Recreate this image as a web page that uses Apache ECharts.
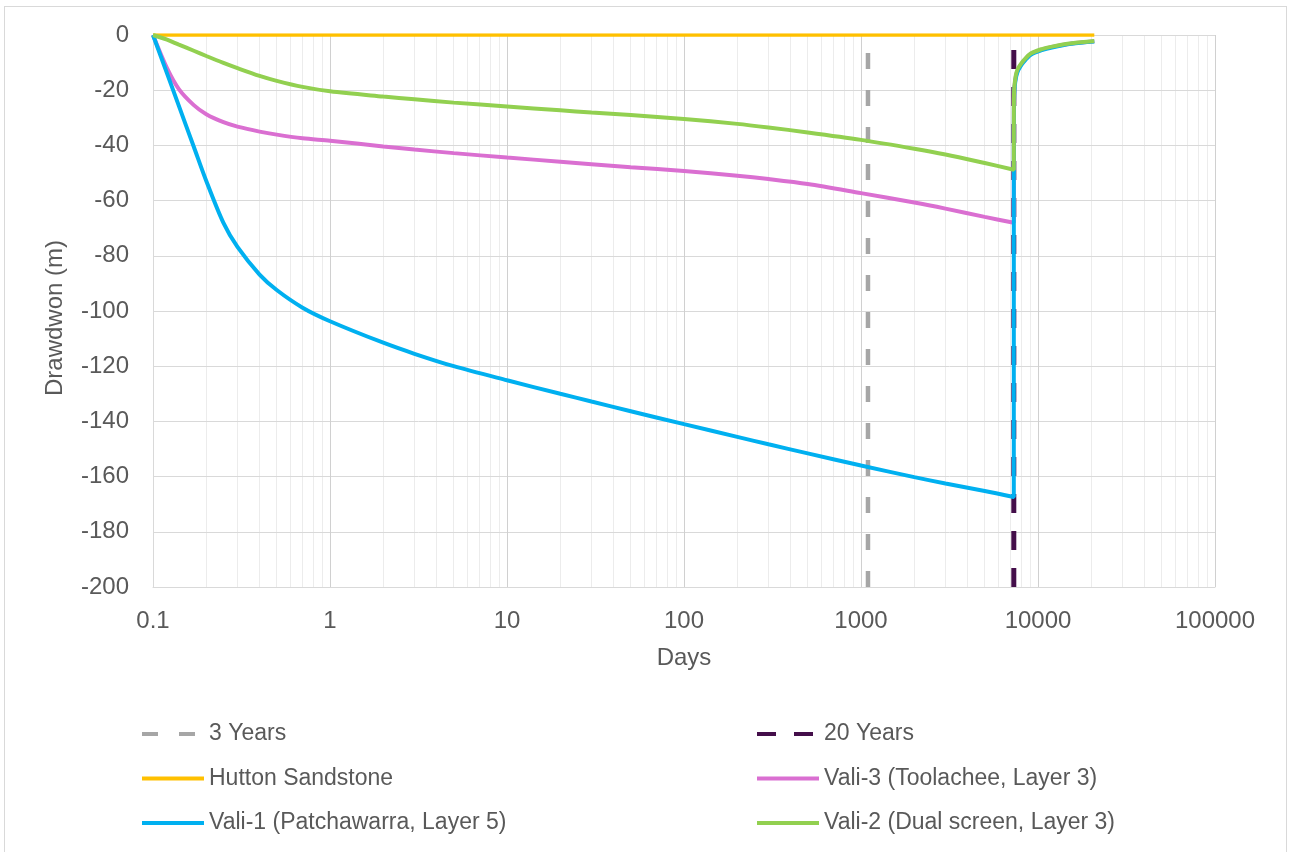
<!DOCTYPE html>
<html>
<head>
<meta charset="utf-8">
<script src="https://cdn.jsdelivr.net/npm/echarts@6/dist/echarts.min.js"></script>
<style>
  html, body { margin: 0; padding: 0; background: #ffffff; overflow: hidden; }
  #wrap { position: relative; width: 1290px; height: 852px; overflow: hidden; }
  #frame { position: absolute; left: 4px; top: 6px; width: 1283px; height: 870px; border: 1px solid #d9d9d9; box-sizing: border-box; }
  #chart { position: absolute; left: 0; top: 0; width: 1290px; height: 852px; }
</style>
</head>
<body>
<div id="wrap">
  <div id="frame"></div>
  <div id="chart"></div>
</div>
<script>
// Time axis (days) during pumping, then during recovery after 20 years
const pumpDays = [0.1, 0.12, 0.14, 0.17, 0.2, 0.25, 0.3, 0.4, 0.5, 0.7, 1, 2, 3, 5, 10, 20, 30, 50, 100, 200, 300, 500, 1000, 2000, 3000, 5000, 7300];
const recoveryDays = [7302, 7310, 7340, 7400, 7500, 7650, 7850, 8300, 9100, 10500, 12000, 15500, 20800];

// Drawdown (m) per bore
const vali1Pump = [0, -13.9, -25.7, -40.5, -52.9, -68.1, -76.8, -86.8, -92.4, -98.8, -103.7, -111.5, -115.5, -120.0, -125.1, -130.0, -132.8, -136.3, -141.0, -145.6, -148.3, -151.6, -156.0, -160.2, -162.5, -165.2, -167.4];
const vali1Recovery = [-45, -27, -21.5, -18.3, -15.6, -13.5, -12.0, -9.8, -7.2, -5.5, -4.5, -3.2, -2.4];

const vali3Pump = [0, -12, -19.6, -25.4, -28.7, -31.6, -33.2, -35.0, -36.1, -37.4, -38.3, -40.4, -41.5, -42.8, -44.4, -45.9, -46.8, -47.9, -49.3, -51.0, -52.2, -54.0, -57.3, -60.7, -62.9, -65.9, -68.0];
const vali3Recovery = [-32, -24, -20.2, -17.6, -15.0, -13.0, -11.6, -9.5, -6.9, -5.3, -4.3, -3.1, -2.3];

const vali2Pump = [0, -1.7, -3.5, -5.7, -7.6, -10.1, -12.0, -14.8, -16.6, -18.8, -20.4, -22.3, -23.3, -24.5, -25.9, -27.3, -28.1, -29.0, -30.4, -32.2, -33.5, -35.3, -38.0, -41.2, -43.3, -46.4, -48.8];
const vali2Recovery = [-30, -23, -19.5, -17, -14.5, -12.6, -11.3, -9.2, -6.7, -5.1, -4.2, -3.0, -2.2];

const huttonDays = [0.1, 20800];
const huttonValues = [0, 0];

// Reference times (days) and the drawdown span they cover
const threeYears = 1095;
const twentyYears = 7300;
const markerSpan = [-200, 0];

// Log-axis gridline positions
const decades = [0.1, 1, 10, 100, 1000, 10000];
const minorSteps = [2, 3, 4, 5, 6, 7, 8, 9];

function pairs(xs, ys) { return xs.map((x, i) => [x, ys[i]]); }
const minorLines = [];
decades.forEach(d => minorSteps.forEach(k => minorLines.push({ xAxis: d * k })));

const FONT = "'Liberation Sans', Arial, sans-serif";
const TXT = '#595959';

const chart = echarts.init(document.getElementById('chart'), null, { renderer: 'canvas' });

const legendBase = {
  orient: 'vertical', top: 722, padding: 0, itemWidth: 62, itemHeight: 14, itemGap: 20.5,
  itemStyle: { opacity: 0 },
  lineStyle: { width: 4 },
  textStyle: { fontSize: 23, color: TXT, fontFamily: FONT, lineHeight: 24 }
};

const option = {
  backgroundColor: 'transparent',
  animation: false,
  textStyle: { fontFamily: FONT, color: TXT },
  grid: { left: 153, top: 35, width: 1062, height: 552, containLabel: false },
  xAxis: {
    type: 'log', logBase: 10, min: 0.1, max: 100000, splitNumber: 6,
    name: 'Days', nameLocation: 'middle', nameGap: 59,
    nameTextStyle: { fontSize: 24, color: TXT, fontFamily: FONT },
    axisLine: { show: true, onZero: false, lineStyle: { color: '#d9d9d9', width: 1 } },
    axisTick: { show: false },
    axisLabel: {
      fontSize: 24, color: TXT, fontFamily: FONT, margin: 22,
      formatter: v => String(Number(Number(v).toPrecision(6)))
    },
    splitLine: { show: true, lineStyle: { color: '#d0d0d0', width: 1 } }
  },
  yAxis: {
    type: 'value', min: -200, max: 0, interval: 20,
    name: 'Drawdwon (m)', nameLocation: 'middle', nameGap: 86, nameRotate: 90,
    nameTextStyle: { fontSize: 24, color: TXT, fontFamily: FONT, padding: [0, 14, 0, 0] },
    axisLine: { show: true, onZero: false, lineStyle: { color: '#d9d9d9', width: 1 } },
    axisTick: { show: false },
    axisLabel: { fontSize: 24, color: TXT, fontFamily: FONT, margin: 24 },
    splitLine: { show: true, lineStyle: { color: '#d9d9d9', width: 1 } }
  },
  legend: [
    Object.assign({}, legendBase, {
      left: 140,
      data: ['3 Years', 'Hutton Sandstone', 'Vali-1 (Patchawarra, Layer 5)']
    }),
    Object.assign({}, legendBase, {
      left: 755,
      data: ['20 Years', 'Vali-3 (Toolachee, Layer 3)', 'Vali-2 (Dual screen, Layer 3)']
    })
  ],
  series: [
    {
      name: 'minor-grid', type: 'line', data: [], silent: true, z: 0,
      markLine: {
        silent: true, z: -1, symbol: ['none', 'none'], label: { show: false },
        lineStyle: { color: '#ececec', width: 1, type: 'solid' },
        data: minorLines
      }
    },
    {
      name: '3 Years', type: 'line', showSymbol: false, symbol: 'none',
      data: markerSpan.map(v => [threeYears, v]),
      lineStyle: { color: '#a6a6a6', width: 4.5, type: [16, 21] },
      itemStyle: { color: '#a6a6a6' }
    },
    {
      name: '20 Years', type: 'line', showSymbol: false, symbol: 'none',
      data: markerSpan.map(v => [twentyYears, v]),
      lineStyle: { color: '#440e4a', width: 5, type: [19, 18] },
      itemStyle: { color: '#440e4a' }
    },
    {
      name: 'Hutton Sandstone', type: 'line', showSymbol: false, symbol: 'none',
      data: pairs(huttonDays, huttonValues),
      lineStyle: { color: '#ffc000', width: 3.5 }, itemStyle: { color: '#ffc000' }
    },
    {
      name: 'Vali-3 (Toolachee, Layer 3)', type: 'line', showSymbol: false, symbol: 'none', smooth: 0.3,
      data: pairs(pumpDays, vali3Pump).concat(pairs(recoveryDays, vali3Recovery)),
      lineStyle: { color: '#da6fd1', width: 4 }, itemStyle: { color: '#da6fd1' }
    },
    {
      name: 'Vali-1 (Patchawarra, Layer 5)', type: 'line', showSymbol: false, symbol: 'none', smooth: 0.3,
      data: pairs(pumpDays, vali1Pump).concat(pairs(recoveryDays, vali1Recovery)),
      lineStyle: { color: '#00b0f0', width: 4 }, itemStyle: { color: '#00b0f0' }
    },
    {
      name: 'Vali-2 (Dual screen, Layer 3)', type: 'line', showSymbol: false, symbol: 'none', smooth: 0.3,
      data: pairs(pumpDays, vali2Pump).concat(pairs(recoveryDays, vali2Recovery)),
      lineStyle: { color: '#92d050', width: 4 }, itemStyle: { color: '#92d050' }
    }
  ]
};

chart.setOption(option);
</script>
</body>
</html>
